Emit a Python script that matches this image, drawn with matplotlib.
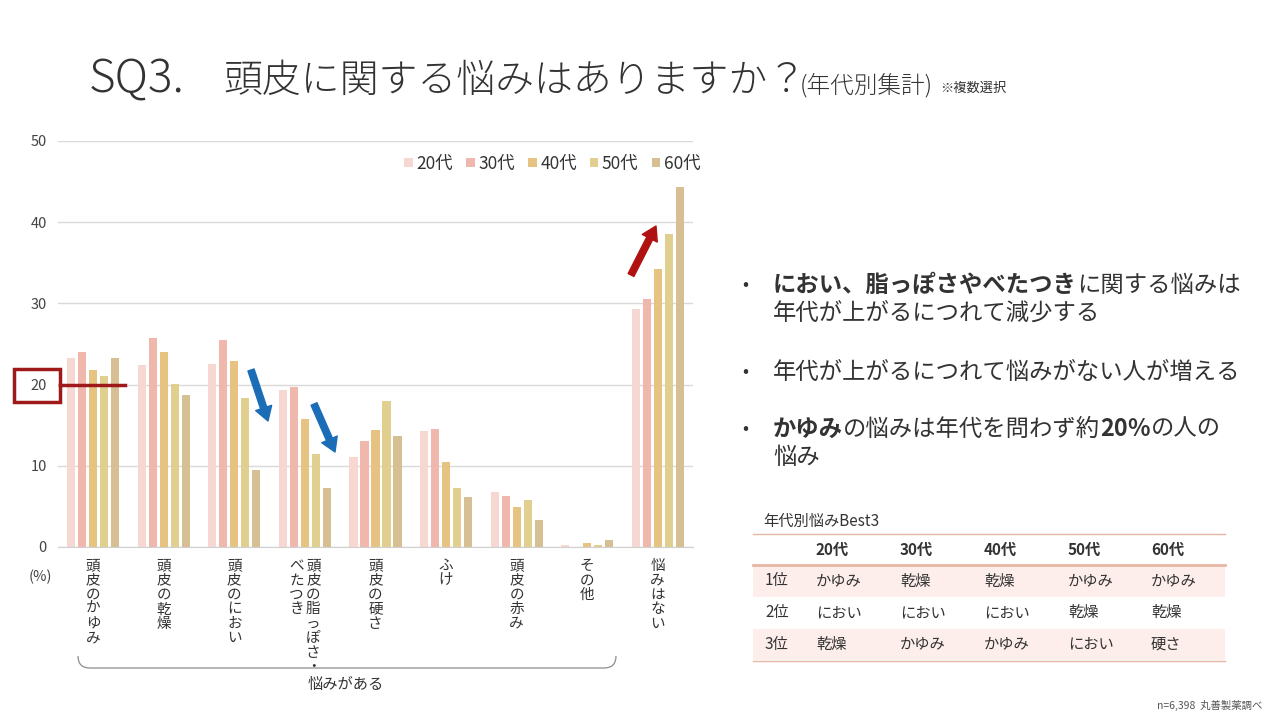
import matplotlib
matplotlib.use("Agg")
import matplotlib.pyplot as plt
from matplotlib.patches import Rectangle, PathPatch, FancyArrowPatch
from matplotlib.path import Path
import numpy as np

plt.rcParams['font.family'] = ['Noto Sans CJK JP', 'DejaVu Sans']

## data
categories = ["頭皮のかゆみ", "頭皮の乾燥", "頭皮のにおい", "頭皮の脂っぽさ・べたつき",
              "頭皮の硬さ", "ふけ", "頭皮の赤み", "その他", "悩みはない"]
ages = ["20代", "30代", "40代", "50代", "60代"]
v20 = [23.3, 22.4, 22.5, 19.3, 11.1, 14.3, 6.8, 0.2, 29.3]
v30 = [24.0, 25.7, 25.5, 19.7, 13.0, 14.5, 6.3, 0.05, 30.5]
v40 = [21.8, 24.0, 22.9, 15.8, 14.4, 10.5, 4.9, 0.5, 34.2]
v50 = [21.1, 20.1, 18.4, 11.5, 18.0, 7.3, 5.8, 0.3, 38.5]
v60 = [23.3, 18.7, 9.5, 7.3, 13.7, 6.2, 3.3, 0.9, 44.3]
series = [v20, v30, v40, v50, v60]
colors = ["#F6D7D1", "#F0B7AD", "#E6C381", "#E1CF8F", "#D6C093"]

bullets = [
    [[("におい、脂っぽさやべたつき", "bold"), ("に関する悩みは", "normal")],
     [("年代が上がるにつれて減少する", "normal")]],
    [[("年代が上がるにつれて悩みがない人が増える", "normal")]],
    [[("かゆみ", "bold"), ("の悩みは年代を問わず約", "normal"), ("20％", "bold"), ("の人の", "normal")],
     [("悩み", "normal")]],
]

rank_labels = ["1位", "2位", "3位"]
rank_table = [
    ["かゆみ", "乾燥", "乾燥", "かゆみ", "かゆみ"],
    ["におい", "におい", "におい", "乾燥", "乾燥"],
    ["乾燥", "かゆみ", "かゆみ", "におい", "硬さ"],
]

W, H = 1280, 720
fig = plt.figure(figsize=(12.8, 7.2), dpi=100)
fig.patch.set_facecolor("white")
renderer = fig.canvas.get_renderer()


def px(x, y):
    return x / W, 1 - y / H


def rich(x, y, pieces, size, color="#333333", va="baseline"):
    # draw text pieces one after the other, measuring each
    cx = x
    for txt, wt in pieces:
        t = fig.text(*px(cx, y), txt, fontsize=size, fontweight=wt, color=color,
                     ha="left", va=va)
        bb = t.get_window_extent(renderer)
        cx = bb.x1
    return cx


## chart
ax = fig.add_axes([58 / W, 1 - 547 / H, 635 / W, 406 / H])
x = np.arange(len(categories))
pitch, bw = 0.156, 0.115
for k, (vals, c, lab) in enumerate(zip(series, colors, ages)):
    ax.bar(x + (k - 2) * pitch, vals, width=bw, color=c, label=lab, zorder=2)

ax.set_xlim(-0.5, len(categories) - 0.5)
ax.set_ylim(0, 50)
ax.set_yticks(range(0, 51, 10))
ax.yaxis.grid(True, color="#D9D9D9", lw=1, zorder=0)
ax.set_xticks([])
for s in ["top", "right", "left"]:
    ax.spines[s].set_visible(False)
ax.spines["bottom"].set_color("#D0D0D0")
ax.tick_params(axis="y", length=0, labelsize=10.5, labelcolor="#444444", pad=8)

ax.legend(loc="upper right", bbox_to_anchor=(716 / W, 1 - 139 / H), bbox_transform=fig.transFigure,
          ncol=5, frameon=False, fontsize=12.5, handlelength=0.5, handleheight=0.5,
          handletextpad=0.2, columnspacing=0.75, labelcolor="#333333")

# vertical category labels
tr = ax.get_xaxis_transform()
for i, name in enumerate(categories):
    if "・" in name:
        cols = [name[:name.index("・") + 1], name[name.index("・") + 1:]]
        offs = [0.12, -0.12]
    else:
        cols, offs = [name], [0]
    for col, off in zip(cols, offs):
        for j, ch in enumerate(col):
            ax.text(i + off, -0.047 - j * 0.0355, ch, transform=tr, ha="center", va="center",
                    fontsize=10.5, color="#333333")

fig.text(*px(40, 577), "(%)", fontsize=10.5, color="#444444", ha="center", va="center")

# bracket under the labels
verts = [px(78, 656), px(78, 668), px(90, 668), px(604, 668), px(616, 668), px(616, 656)]
codes = [Path.MOVETO, Path.CURVE3, Path.CURVE3, Path.LINETO, Path.CURVE3, Path.CURVE3]
fig.patches.append(PathPatch(Path(verts, codes), transform=fig.transFigure, fill=False,
                             edgecolor="#8C8C8C", lw=0.9))
fig.text(*px(346, 684), "悩みがある", fontsize=11, color="#333333", ha="center", va="center")

# red marker around 20
fig.patches.append(Rectangle(px(14, 402), 46 / W, 33 / H, transform=fig.transFigure,
                             fill=False, edgecolor="#9E1A1A", lw=2.5, zorder=5))
fig.lines.append(plt.Line2D([60 / W, 125 / W], [1 - 385 / H] * 2, transform=fig.transFigure,
                            color="#9E1A1A", lw=2.5, zorder=5))

# trend arrows
arrow_kw = "simple,head_width=1.1,head_length=0.9,tail_width=0.42"
for (x0, y0, x1, y1, c) in [(251, 370, 268, 421, "#1B6DB8"), (314, 404, 335, 452, "#1B6DB8"),
                            (631, 275, 656, 226, "#B01212")]:
    fig.add_artist(FancyArrowPatch(
        px(x0, y0), px(x1, y1), transform=fig.transFigure, arrowstyle=arrow_kw,
        mutation_scale=11, color=c, shrinkA=0, shrinkB=0, zorder=6))

## title
rich(89, 92, [("SQ3.", "light")], 33)
endx = rich(223, 92, [("頭皮に関する悩みはありますか？", "light")], 28)
endx = rich(endx - 6, 92, [("(年代別集計)", "light")], 17)
rich(endx + 7, 92, [("※複数選択", "normal")], 9.5)

## bullet points
bullet_y = [[285, 313], [372], [429, 458]]
for lines, ys in zip(bullets, bullet_y):
    fig.text(*px(745, ys[0]), "•", fontsize=13, color="#333333", ha="center", va="center")
    for pieces, yy in zip(lines, ys):
        rich(773, yy, pieces, 16.8, va="center")

## ranking table
fig.text(*px(763, 521), "年代別悩みBest3", fontsize=11, color="#333333", ha="left", va="center")
col_x = [816, 900, 984, 1068, 1151]
tx0, tx1 = 753, 1225
for (ya, yb) in [(566, 597), (629, 660)]:
    fig.patches.append(Rectangle(px(tx0, yb), (tx1 - tx0) / W, (yb - ya) / H,
                                 transform=fig.transFigure, facecolor="#FDEEEB", edgecolor="none"))
for yy, lw in [(534, 1.0), (565, 2.0), (661, 1.0)]:
    fig.lines.append(plt.Line2D([tx0 / W, tx1 / W], [1 - yy / H] * 2, transform=fig.transFigure,
                                color="#E5B7A4", lw=lw))
for cx, lab in zip(col_x, ages):
    fig.text(*px(cx, 550), lab, fontsize=11, fontweight="bold", color="#333333", ha="left", va="center")
for r, (rl, row) in enumerate(zip(rank_labels, rank_table)):
    yy = 581 + r * 31.5
    fig.text(*px(765, yy), rl, fontsize=11, color="#333333", ha="left", va="center")
    for cx, item in zip(col_x, row):
        fig.text(*px(cx, yy), item, fontsize=11, color="#333333", ha="left", va="center")

fig.text(*px(1262, 705), "n=6,398  丸善製薬調べ", fontsize=7.5, color="#555555", ha="right", va="center")

fig.savefig("out.png", dpi=100)
